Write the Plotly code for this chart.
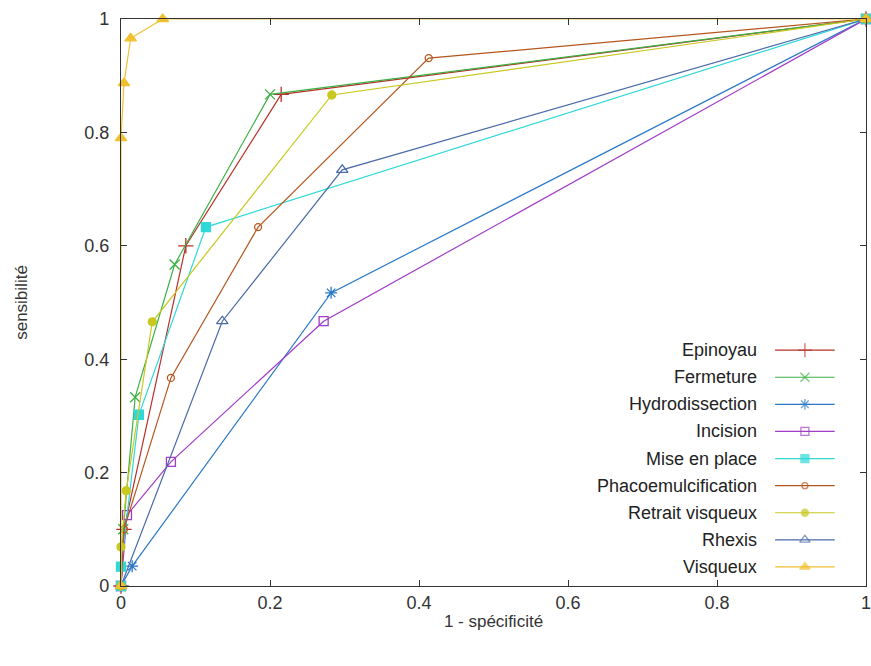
import plotly.graph_objects as go

# ---- data (1 - specificity, sensitivity) ----
series_names = ["Epinoyau", "Fermeture", "Hydrodissection", "Incision", "Mise en place",
                "Phacoemulcification", "Retrait visqueux", "Rhexis", "Visqueux"]

epinoyau_x = [0, 0.004, 0.087, 0.215, 1]
epinoyau_y = [0, 0.100, 0.600, 0.867, 1]

fermeture_x = [0, 0.003, 0.019, 0.072, 0.200, 1]
fermeture_y = [0, 0.100, 0.333, 0.567, 0.867, 1]

hydro_x = [0, 0.015, 0.282, 1]
hydro_y = [0, 0.035, 0.517, 1]

incision_x = [0, 0.008, 0.067, 0.272, 1]
incision_y = [0, 0.125, 0.219, 0.467, 1]

mise_x = [0, 0.000, 0.024, 0.114, 1]
mise_y = [0, 0.034, 0.302, 0.633, 1]

phaco_x = [0, 0.004, 0.067, 0.184, 0.413, 1]
phaco_y = [0, 0.100, 0.367, 0.633, 0.931, 1]

retrait_x = [0, 0.000, 0.007, 0.042, 0.283, 1]
retrait_y = [0, 0.069, 0.168, 0.466, 0.866, 1]

rhexis_x = [0, 0.136, 0.297, 1]
rhexis_y = [0, 0.467, 0.734, 1]

visqueux_x = [0, 0.000, 0.004, 0.013, 0.056, 1]
visqueux_y = [0, 0.790, 0.887, 0.966, 1.000, 1]

xs = [epinoyau_x, fermeture_x, hydro_x, incision_x, mise_x, phaco_x, retrait_x, rhexis_x, visqueux_x]
ys = [epinoyau_y, fermeture_y, hydro_y, incision_y, mise_y, phaco_y, retrait_y, rhexis_y, visqueux_y]

tick_vals = [0, 0.2, 0.4, 0.6, 0.8, 1]
tick_text = ["0", "0.2", "0.4", "0.6", "0.8", "1"]

# ---- styles ----
colors = ["#b8302a", "#3cb043", "#2a78c8", "#a03cc8", "#30d8d8",
          "#b5561c", "#c8c820", "#4a6aa8", "#f0c030"]
symbols = ["cross-thin-open", "x-thin-open", "asterisk-open", "square-open", "square",
           "circle-open", "circle", "triangle-up-open", "triangle-up"]
sizes = [11, 10, 10, 9, 9, 7, 8, 10, 10]

FONT = "Liberation Sans, Arial, sans-serif"

fig = go.Figure()
for name, x, y, c, s, sz in zip(series_names, xs, ys, colors, symbols, sizes):
    fig.add_trace(go.Scatter(
        x=x, y=y, mode="lines+markers", name=name,
        line=dict(color=c, width=1.2),
        marker=dict(symbol=s, size=sz, color=c, line=dict(color=c, width=1.3)),
        showlegend=False, cliponaxis=False))

# ---- gnuplot-style key (text left, sample right) on an overlay axis ----
key_text_x = 0.856
key_line_x0, key_line_x1 = 0.878, 0.958
key_top, key_step = 0.416, 0.0478
for i, (name, c, s, sz) in enumerate(zip(series_names, colors, symbols, sizes)):
    yy = key_top - i * key_step
    fig.add_trace(go.Scatter(
        x=[key_line_x0, (key_line_x0 + key_line_x1) / 2, key_line_x1], y=[yy, yy, yy],
        mode="lines+markers", xaxis="x2", yaxis="y2", showlegend=False, hoverinfo="skip",
        line=dict(color=c, width=1.2),
        marker=dict(symbol=s, size=[0, sz - 1, 0], color=c, line=dict(color=c, width=1.3))))
    fig.add_annotation(x=key_text_x, y=yy, xref="x2", yref="y2", text=name,
                       showarrow=False, xanchor="right", yanchor="middle",
                       font=dict(family=FONT, size=18, color="#222"))

axis_common = dict(range=[0, 1], tickvals=tick_vals, ticktext=tick_text,
                   ticks="inside", ticklen=6, tickwidth=1, tickcolor="#333",
                   showline=True, linecolor="#333", linewidth=1.3, mirror="allticks",
                   showgrid=False, zeroline=False, automargin=False,
                   ticklabeloverflow="allow",
                   tickfont=dict(family=FONT, size=18, color="#333"))

fig.update_layout(
    width=871, height=666,
    margin=dict(l=121, r=5, t=19, b=80),
    paper_bgcolor="white", plot_bgcolor="white",
    xaxis=dict(**axis_common, title=dict(text="1 - spécificité", standoff=3,
                                         font=dict(family=FONT, size=17, color="#333"))),
    yaxis=dict(**axis_common, ticklabelstandoff=7,
               title=dict(text="sensibilité", standoff=52,
                          font=dict(family=FONT, size=17, color="#333"))),
    xaxis2=dict(range=[0, 1], overlaying="x", visible=False),
    yaxis2=dict(range=[0, 1], overlaying="y", visible=False),
    showlegend=False,
)

fig.write_html("out.html", config={"displayModeBar": False},
               post_script="document.body.style.margin='0';document.body.style.overflow='hidden';")
